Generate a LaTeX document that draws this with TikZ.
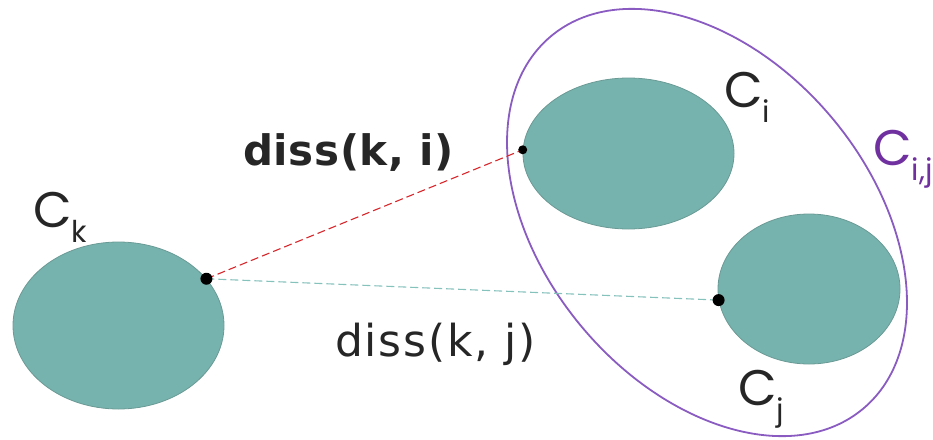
\documentclass[tikz,border=0pt]{standalone}
\usepackage{fontspec}
\setmainfont{DejaVu Sans}
\newfontfamily\gothic{Poppins}
\usetikzlibrary{shapes.geometric}
\definecolor{tealfill}{HTML}{77B3AE}
\definecolor{tealedge}{HTML}{6A9A95}
\definecolor{purpleline}{HTML}{8A5CC2}
\definecolor{purpletext}{HTML}{7030A0}
\definecolor{reddash}{HTML}{D9262B}
\definecolor{tealdash}{HTML}{86C2BC}
\definecolor{labelgray}{HTML}{262626}
\tikzset{
  cluster/.style={ellipse, draw=tealedge, line width=0.8pt, fill=tealfill, inner sep=0pt},
  bigcluster/.style={ellipse, draw=purpleline, line width=1.8pt, inner sep=0pt},
  pointdot/.style={circle, fill=black, inner sep=0pt, minimum size=11pt},
  clabel/.style={font=\gothic\fontsize{50}{50}\selectfont, text=labelgray, inner sep=0pt, anchor=base west},
  disslink/.style={dashed, dash pattern=on 8pt off 4pt, line width=1.1pt},
  disstext/.style={text=labelgray, inner sep=0pt, anchor=base west}
}
\begin{document}
\begin{tikzpicture}[x=1pt,y=-1pt]
\useasboundingbox (0,0) rectangle (933,439);
% big cluster
\node[bigcluster, minimum width=486pt, minimum height=326pt, rotate=-50] (cij) at (707,222.5) {};
% clusters
\node[cluster, minimum width=211pt, minimum height=167pt] (ck) at (118.5,325.5) {};
\node[cluster, minimum width=211pt, minimum height=151pt] (ci) at (628.5,153.5) {};
\node[cluster, minimum width=182pt, minimum height=150pt] (cj) at (809,289) {};
% points
\coordinate (pk) at (ck.28.5);
\coordinate (pi) at (ci.178);
\coordinate (pj) at (cj.187);
% links
\draw[disslink, reddash] (pk) -- (pi);
\draw[disslink, tealdash] (pk) -- (pj);
\node[pointdot, minimum size=12pt] (dk) at (pk) {};
\node[pointdot, minimum size=9pt] (di) at (pi) {};
\node[pointdot, minimum size=12pt] (dj) at (pj) {};
% labels
\node[clabel] (lk) at (33,227) {C\raisebox{-0.3em}{\fontsize{30}{30}\selectfont k}};
\node[clabel] (li) at (724,107) {C\raisebox{-0.3em}{\fontsize{30}{30}\selectfont i}};
\node[clabel] (lj) at (738,405) {C\raisebox{-0.3em}{\fontsize{30}{30}\selectfont j}};
\node[clabel, text=purpletext] (lij) at (873,165) {C\raisebox{-0.3em}{\fontsize{30}{30}\selectfont i,j}};
\node[disstext, font=\bfseries\fontsize{42}{42}\selectfont\addfontfeature{LetterSpace=1.5}] (dki) at (243,165) {diss(k, i)};
\node[disstext, font=\fontsize{44}{44}\selectfont\addfontfeature{LetterSpace=4}] (dkj) at (335,356) {diss(k, j)};
\end{tikzpicture}
\end{document}
